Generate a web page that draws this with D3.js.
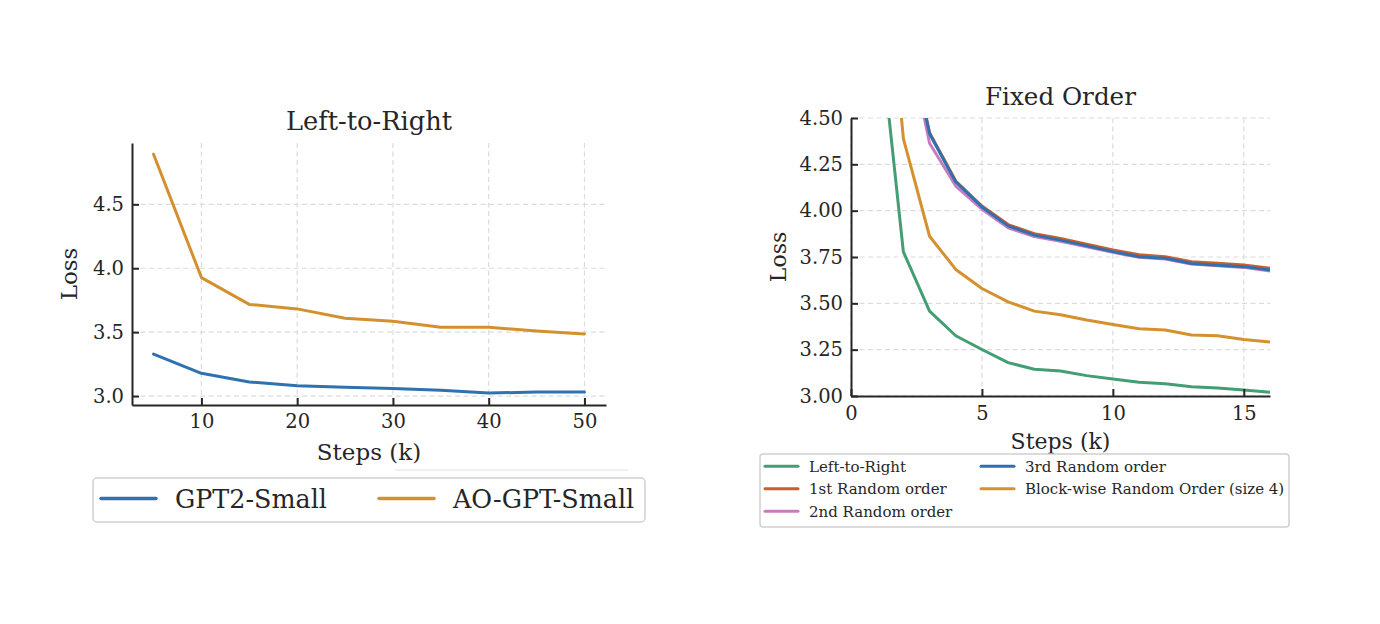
<!DOCTYPE html>
<html>
<head>
<meta charset="utf-8">
<title>Loss curves</title>
<script src="https://d3js.org/d3.v7.min.js"></script>
<style>
  body { margin: 0; background: #fff; }
  text { font-family: "DejaVu Serif", serif; fill: #262626; }
</style>
</head>
<body>
<svg width="1380" height="624"></svg>
<script>
    // ---- left panel data (Left-to-Right) ----
    const ltrSteps = [5, 10, 15, 20, 25, 30, 35, 40, 45, 50];
    const gpt2Loss = [3.328, 3.178, 3.110, 3.081, 3.068, 3.060, 3.045, 3.024, 3.031, 3.031];
    const aoGptLoss = [4.892, 3.927, 3.717, 3.682, 3.609, 3.585, 3.538, 3.538, 3.509, 3.486];
    const ltrXTicks = [10, 20, 30, 40, 50];
    const ltrYTicks = [3.0, 3.5, 4.0, 4.5];

    // ---- right panel data (Fixed Order) ----
    const foSteps = [1, 2, 3, 4, 5, 6, 7, 8, 9, 10, 11, 12, 13, 14, 15, 16];
    const foLeftToRight = [5.10, 3.778, 3.458, 3.325, 3.251, 3.180, 3.144, 3.135, 3.110, 3.092, 3.074, 3.066, 3.050, 3.043, 3.032, 3.020];
    const foRandom1 = [6.30, 5.08, 4.420, 4.160, 4.025, 3.925, 3.876, 3.850, 3.819, 3.788, 3.762, 3.752, 3.725, 3.716, 3.707, 3.689];
    const foRandom2 = [6.20, 5.04, 4.364, 4.133, 4.008, 3.908, 3.860, 3.835, 3.805, 3.775, 3.748, 3.739, 3.712, 3.703, 3.694, 3.675];
    const foRandom3 = [6.30, 5.07, 4.415, 4.155, 4.020, 3.918, 3.868, 3.841, 3.810, 3.779, 3.751, 3.743, 3.715, 3.706, 3.698, 3.680];
    const foBlockwise = [5.90, 4.389, 3.862, 3.683, 3.580, 3.508, 3.458, 3.438, 3.410, 3.386, 3.363, 3.356, 3.329, 3.325, 3.305, 3.291];
    const foXTicks = [0, 5, 10, 15];
    const foYTicks = [3.00, 3.25, 3.50, 3.75, 4.00, 4.25, 4.50];

    const svg = d3.select("svg");
    const ink = "#262626";

    function panel(opt) {
        const g = svg.append("g");
        const x = d3.scaleLinear().domain(opt.xDomain).range([opt.left, opt.right]);
        const y = d3.scaleLinear().domain(opt.yDomain).range([opt.bottom, opt.top]);

        g.append("clipPath").attr("id", opt.id)
            .append("rect")
            .attr("x", opt.left).attr("y", opt.top)
            .attr("width", opt.right - opt.left).attr("height", opt.bottom - opt.top);

        // grid
        g.selectAll(".gx").data(opt.xTicks).enter().append("line")
            .attr("x1", d => x(d)).attr("x2", d => x(d))
            .attr("y1", opt.top).attr("y2", opt.bottom)
            .attr("stroke", "#dcdcdc").attr("stroke-width", 1.2).attr("stroke-dasharray", "5,3.5");
        g.selectAll(".gy").data(opt.yTicks).enter().append("line")
            .attr("x1", opt.left).attr("x2", opt.right)
            .attr("y1", d => y(d)).attr("y2", d => y(d))
            .attr("stroke", "#dcdcdc").attr("stroke-width", 1.2).attr("stroke-dasharray", "5,3.5");

        // lines
        const line = d3.line().x(d => x(d[0])).y(d => y(d[1]));
        const lines = g.append("g").attr("clip-path", "url(#" + opt.id + ")");
        opt.series.forEach(s => {
            lines.append("path")
                .datum(opt.steps.map((st, i) => [st, s.values[i]]))
                .attr("d", line)
                .attr("fill", "none")
                .attr("stroke", s.color)
                .attr("stroke-width", 3)
                .attr("stroke-linejoin", "round")
                .attr("stroke-linecap", "round");
        });

        // axes
        const xAxis = d3.axisBottom(x).tickValues(opt.xTicks).tickFormat(d3.format(opt.xFmt))
            .tickSizeInner(-7).tickSizeOuter(0).tickPadding(opt.xPad);
        const yAxis = d3.axisLeft(y).tickValues(opt.yTicks).tickFormat(d3.format(opt.yFmt))
            .tickSizeInner(-7).tickSizeOuter(0).tickPadding(8);

        const gx = g.append("g").attr("transform", "translate(0," + opt.bottom + ")").call(xAxis);
        const gy = g.append("g").attr("transform", "translate(" + opt.left + ",0)").call(yAxis);
        [gx, gy].forEach(a => {
            a.select(".domain").attr("stroke", ink).attr("stroke-width", 2);
            a.selectAll(".tick line").attr("stroke", ink).attr("stroke-width", 2);
            a.selectAll(".tick text").attr("fill", "#333").style("font-size", opt.tickSize + "px")
                .style("font-family", "DejaVu Serif");
        });

        // titles and labels
        const cx = (opt.left + opt.right) / 2;
        g.append("text").attr("x", cx).attr("y", opt.titleY)
            .attr("text-anchor", "middle").style("font-size", opt.titleSize + "px").text(opt.title);
        g.append("text").attr("x", cx).attr("y", opt.xLabelY)
            .attr("text-anchor", "middle").style("font-size", opt.labelSize + "px").text("Steps (k)");
        g.append("text")
            .attr("transform", "translate(" + opt.yLabelX + "," + ((opt.top + opt.bottom) / 2) + ") rotate(-90)")
            .attr("text-anchor", "middle").style("font-size", opt.labelSize + "px").text("Loss");

        return { x, y, g };
    }

    // ---- left panel ----
    const gptBlue = "#3071b0";
    const aoOrange = "#d4902f";
    panel({
        id: "clipL", left: 132, right: 606, top: 143, bottom: 405,
        xDomain: [2.75, 52.25], yDomain: [2.93, 4.98],
        xTicks: ltrXTicks, yTicks: ltrYTicks, xFmt: "d", yFmt: ".1f", xPad: 9,
        steps: ltrSteps,
        series: [
            { values: gpt2Loss, color: gptBlue },
            { values: aoGptLoss, color: aoOrange }
        ],
        title: "Left-to-Right", titleY: 130, titleSize: 25.7,
        xLabelY: 460, yLabelX: 77, labelSize: 23, tickSize: 19.5
    });

    // stray faint rule under the left x label
    svg.append("line").attr("x1", 395).attr("x2", 628).attr("y1", 470).attr("y2", 470)
        .attr("stroke", "#e2e2e2").attr("stroke-width", 1);

    // left legend
    const legL = svg.append("g");
    legL.append("rect").attr("x", 93).attr("y", 478).attr("width", 552).attr("height", 44)
        .attr("rx", 4).attr("fill", "#fff").attr("stroke", "#d0d0d0").attr("stroke-width", 1.5);
    const legLItems = [
        { name: "GPT2-Small", color: gptBlue, x: 101 },
        { name: "AO-GPT-Small", color: aoOrange, x: 379 }
    ];
    legLItems.forEach(d => {
        legL.append("line").attr("x1", d.x).attr("x2", d.x + 55).attr("y1", 498.5).attr("y2", 498.5)
            .attr("stroke", d.color).attr("stroke-width", 3.5).attr("stroke-linecap", "round");
        legL.append("text").attr("x", d.x + 74).attr("y", 508).style("font-size", "25.4px").text(d.name);
    });

    // ---- right panel ----
    const cGreen = "#449e74", cRed = "#c9602a", cPink = "#c77dbd", cBlue = "#3070b0", cOrange = "#d5912f";
    panel({
        id: "clipR", left: 851, right: 1270, top: 118, bottom: 396,
        xDomain: [0, 16], yDomain: [3.0, 4.5],
        xTicks: foXTicks, yTicks: foYTicks, xFmt: "d", yFmt: ".2f", xPad: 10.5,
        steps: foSteps,
        series: [
            { values: foLeftToRight, color: cGreen },
            { values: foRandom1, color: cRed },
            { values: foRandom2, color: cPink },
            { values: foRandom3, color: cBlue },
            { values: foBlockwise, color: cOrange }
        ],
        title: "Fixed Order", titleY: 105, titleSize: 24.6,
        xLabelY: 449, yLabelX: 786, labelSize: 22, tickSize: 19.5
    });

    // right legend
    const legR = svg.append("g");
    legR.append("rect").attr("x", 760).attr("y", 454).attr("width", 529).attr("height", 73)
        .attr("rx", 3).attr("fill", "#fff").attr("stroke", "#d0d0d0").attr("stroke-width", 1.5);
    const legRItems = [
        { name: "Left-to-Right", color: cGreen, col: 0, row: 0 },
        { name: "1st Random order", color: cRed, col: 0, row: 1 },
        { name: "2nd Random order", color: cPink, col: 0, row: 2 },
        { name: "3rd Random order", color: cBlue, col: 1, row: 0 },
        { name: "Block-wise Random Order (size 4)", color: cOrange, col: 1, row: 1 }
    ];
    legRItems.forEach(d => {
        const lx = d.col === 0 ? 765 : 981;
        const ly = 466.3 + d.row * 22.5;
        legR.append("line").attr("x1", lx).attr("x2", lx + 33).attr("y1", ly).attr("y2", ly)
            .attr("stroke", d.color).attr("stroke-width", 3).attr("stroke-linecap", "round");
        legR.append("text").attr("x", lx + 44).attr("y", ly + 5.5).style("font-size", "15px").text(d.name);
    });
</script>
</body>
</html>
